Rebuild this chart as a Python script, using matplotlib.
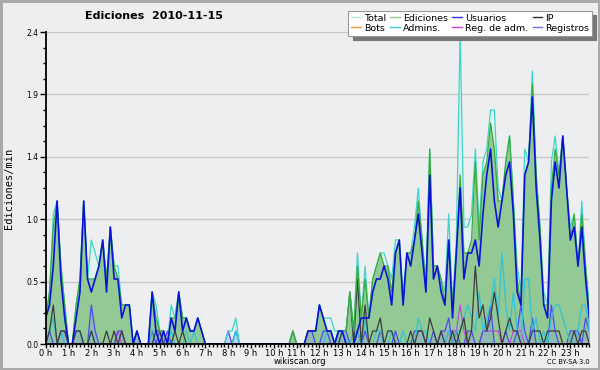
import matplotlib
matplotlib.use("Agg")
import matplotlib.pyplot as plt
from matplotlib.lines import Line2D
import numpy as np

# ---- data: values per 10 minutes (edits/min), one row per hour ----
total_rows = [
    [0.2, 0.4, 1.0, 1.1, 0.6, 0.3], [0.0, 0.0, 0.3, 0.5, 1.1, 0.5],
    [0.8, 0.7, 0.6, 0.8, 0.5, 0.9], [0.6, 0.6, 0.3, 0.3, 0.3, 0.0],
    [0.1, 0.0, 0.0, 0.0, 0.4, 0.3], [0.1, 0.1, 0.0, 0.3, 0.2, 0.4],
    [0.2, 0.2, 0.1, 0.1, 0.2, 0.1], [0.0, 0.0, 0.0, 0.0, 0.0, 0.0],
    [0.1, 0.1, 0.2, 0.0, 0.0, 0.0], [0.0, 0.0, 0.0, 0.0, 0.0, 0.0],
    [0.0, 0.0, 0.0, 0.0, 0.0, 0.1], [0.0, 0.0, 0.0, 0.1, 0.1, 0.1],
    [0.3, 0.2, 0.2, 0.2, 0.1, 0.1], [0.1, 0.1, 0.4, 0.1, 0.7, 0.2],
    [0.6, 0.2, 0.5, 0.6, 0.7, 0.7], [0.6, 0.5, 0.8, 0.8, 0.4, 0.7],
    [0.7, 0.9, 1.2, 0.8, 0.5, 1.5], [0.6, 0.6, 0.5, 0.4, 1.0, 0.3],
    [0.8, 2.4, 0.9, 0.9, 1.0, 1.5], [0.9, 1.4, 1.5, 1.8, 1.8, 1.2],
    [1.1, 1.4, 1.6, 1.1, 0.6, 0.4], [1.5, 1.4, 2.1, 1.3, 0.9, 0.4],
    [0.3, 1.4, 1.6, 1.3, 1.6, 1.2], [0.9, 1.0, 0.6, 1.1, 0.6, 0.3],
]
ediciones_rows = [
    [0.2, 0.4, 0.9, 1.1, 0.6, 0.3], [0.0, 0.0, 0.3, 0.5, 1.1, 0.5],
    [0.5, 0.5, 0.6, 0.8, 0.5, 0.9], [0.6, 0.5, 0.3, 0.3, 0.3, 0.0],
    [0.1, 0.0, 0.0, 0.0, 0.4, 0.2], [0.1, 0.1, 0.0, 0.2, 0.2, 0.4],
    [0.2, 0.2, 0.1, 0.1, 0.2, 0.1], [0.0, 0.0, 0.0, 0.0, 0.0, 0.0],
    [0.0, 0.0, 0.0, 0.0, 0.0, 0.0], [0.0, 0.0, 0.0, 0.0, 0.0, 0.0],
    [0.0, 0.0, 0.0, 0.0, 0.0, 0.1], [0.0, 0.0, 0.0, 0.1, 0.1, 0.1],
    [0.3, 0.2, 0.1, 0.1, 0.0, 0.1], [0.1, 0.1, 0.4, 0.1, 0.6, 0.2],
    [0.5, 0.2, 0.5, 0.6, 0.7, 0.6], [0.6, 0.4, 0.7, 0.8, 0.3, 0.7],
    [0.7, 0.8, 1.1, 0.8, 0.4, 1.5], [0.6, 0.6, 0.5, 0.3, 0.8, 0.3],
    [0.7, 1.3, 0.7, 0.7, 0.8, 1.4], [0.8, 1.3, 1.4, 1.7, 1.5, 1.1],
    [1.1, 1.4, 1.6, 1.1, 0.5, 0.3], [1.3, 1.4, 2.0, 1.3, 0.9, 0.3],
    [0.3, 1.2, 1.5, 1.3, 1.6, 1.2], [0.8, 1.0, 0.6, 1.0, 0.6, 0.2],
]
usuarios_rows = [
    [0.2, 0.3, 0.6, 1.1, 0.5, 0.2], [0.0, 0.0, 0.2, 0.4, 1.1, 0.5],
    [0.4, 0.5, 0.6, 0.8, 0.4, 0.9], [0.5, 0.5, 0.2, 0.3, 0.3, 0.0],
    [0.1, 0.0, 0.0, 0.0, 0.4, 0.1], [0.0, 0.1, 0.0, 0.2, 0.1, 0.4],
    [0.1, 0.2, 0.1, 0.1, 0.2, 0.1], [0.0, 0.0, 0.0, 0.0, 0.0, 0.0],
    [0.0, 0.0, 0.0, 0.0, 0.0, 0.0], [0.0, 0.0, 0.0, 0.0, 0.0, 0.0],
    [0.0, 0.0, 0.0, 0.0, 0.0, 0.0], [0.0, 0.0, 0.0, 0.1, 0.1, 0.1],
    [0.3, 0.2, 0.1, 0.1, 0.0, 0.1], [0.1, 0.0, 0.0, 0.0, 0.1, 0.2],
    [0.2, 0.2, 0.4, 0.5, 0.5, 0.6], [0.5, 0.3, 0.7, 0.8, 0.3, 0.7],
    [0.6, 0.8, 1.0, 0.7, 0.4, 1.3], [0.5, 0.6, 0.4, 0.3, 0.8, 0.2],
    [0.7, 1.2, 0.5, 0.7, 0.7, 0.8], [0.6, 1.0, 1.3, 1.5, 1.1, 0.9],
    [1.1, 1.3, 1.4, 1.0, 0.4, 0.3], [1.3, 1.4, 1.9, 1.2, 0.8, 0.3],
    [0.2, 1.1, 1.4, 1.2, 1.6, 1.2], [0.8, 0.9, 0.6, 0.9, 0.5, 0.2],
]
ip_rows = [
    [0.0, 0.1, 0.3, 0.0, 0.1, 0.1], [0.0, 0.0, 0.1, 0.1, 0.0, 0.0],
    [0.1, 0.0, 0.0, 0.0, 0.1, 0.0], [0.1, 0.0, 0.1, 0.0, 0.0, 0.0],
    [0.0, 0.0, 0.0, 0.0, 0.0, 0.1], [0.1, 0.0, 0.0, 0.0, 0.1, 0.0],
    [0.1, 0.0, 0.0, 0.0, 0.0, 0.0], [0.0, 0.0, 0.0, 0.0, 0.0, 0.0],
    [0.0, 0.0, 0.0, 0.0, 0.0, 0.0], [0.0, 0.0, 0.0, 0.0, 0.0, 0.0],
    [0.0, 0.0, 0.0, 0.0, 0.0, 0.1], [0.0, 0.0, 0.0, 0.0, 0.0, 0.0],
    [0.0, 0.0, 0.0, 0.0, 0.0, 0.0], [0.1, 0.1, 0.4, 0.0, 0.5, 0.0],
    [0.3, 0.0, 0.1, 0.1, 0.2, 0.0], [0.1, 0.1, 0.0, 0.0, 0.0, 0.0],
    [0.1, 0.0, 0.1, 0.1, 0.0, 0.2], [0.1, 0.0, 0.1, 0.0, 0.0, 0.1],
    [0.0, 0.1, 0.2, 0.0, 0.1, 0.6], [0.2, 0.3, 0.1, 0.2, 0.4, 0.2],
    [0.0, 0.1, 0.2, 0.1, 0.1, 0.0], [0.0, 0.0, 0.1, 0.1, 0.1, 0.0],
    [0.1, 0.1, 0.1, 0.1, 0.0, 0.0], [0.0, 0.1, 0.0, 0.1, 0.1, 0.0],
]
admins_rows = [
    [0.0, 0.1, 0.2, 0.0, 0.1, 0.0], [0.0, 0.0, 0.1, 0.1, 0.0, 0.0],
    [0.1, 0.0, 0.0, 0.0, 0.0, 0.0], [0.0, 0.0, 0.0, 0.0, 0.0, 0.0],
    [0.0, 0.0, 0.0, 0.0, 0.1, 0.1], [0.0, 0.0, 0.0, 0.1, 0.0, 0.0],
    [0.0, 0.1, 0.0, 0.1, 0.0, 0.0], [0.0, 0.0, 0.0, 0.0, 0.0, 0.0],
    [0.0, 0.0, 0.1, 0.0, 0.0, 0.0], [0.0, 0.0, 0.0, 0.0, 0.0, 0.0],
    [0.0, 0.0, 0.0, 0.0, 0.0, 0.0], [0.0, 0.0, 0.0, 0.0, 0.0, 0.0],
    [0.0, 0.0, 0.1, 0.1, 0.0, 0.0], [0.1, 0.0, 0.0, 0.1, 0.1, 0.0],
    [0.2, 0.0, 0.0, 0.1, 0.1, 0.0], [0.0, 0.1, 0.0, 0.0, 0.1, 0.0],
    [0.0, 0.0, 0.2, 0.1, 0.1, 0.0], [0.0, 0.0, 0.0, 0.0, 0.1, 0.0],
    [0.1, 0.1, 0.2, 0.3, 0.2, 0.1], [0.4, 0.1, 0.2, 0.3, 0.5, 0.2],
    [0.7, 0.3, 0.1, 0.4, 0.1, 0.0], [0.5, 0.5, 0.1, 0.2, 0.0, 0.1],
    [0.0, 0.2, 0.3, 0.3, 0.2, 0.1], [0.0, 0.0, 0.1, 0.3, 0.3, 0.1],
]
registros_rows = [
    [0.0, 0.1, 0.0, 0.0, 0.1, 0.1], [0.0, 0.0, 0.1, 0.1, 0.0, 0.0],
    [0.3, 0.1, 0.0, 0.0, 0.0, 0.0], [0.0, 0.1, 0.1, 0.0, 0.0, 0.0],
    [0.1, 0.0, 0.0, 0.0, 0.1, 0.0], [0.1, 0.0, 0.1, 0.0, 0.0, 0.0],
    [0.0, 0.0, 0.0, 0.0, 0.0, 0.0], [0.0, 0.0, 0.0, 0.0, 0.0, 0.0],
    [0.1, 0.0, 0.1, 0.0, 0.0, 0.0], [0.0, 0.0, 0.0, 0.0, 0.0, 0.0],
    [0.0, 0.0, 0.0, 0.0, 0.0, 0.0], [0.0, 0.0, 0.0, 0.1, 0.1, 0.0],
    [0.0, 0.1, 0.1, 0.0, 0.0, 0.1], [0.1, 0.1, 0.0, 0.0, 0.1, 0.0],
    [0.1, 0.0, 0.0, 0.0, 0.1, 0.0], [0.0, 0.0, 0.1, 0.0, 0.0, 0.0],
    [0.0, 0.1, 0.1, 0.1, 0.0, 0.0], [0.1, 0.0, 0.1, 0.1, 0.2, 0.0],
    [0.1, 0.0, 0.0, 0.1, 0.1, 0.0], [0.0, 0.1, 0.1, 0.3, 0.0, 0.0],
    [0.0, 0.1, 0.0, 0.0, 0.1, 0.3], [0.1, 0.0, 0.2, 0.0, 0.0, 0.0],
    [0.0, 0.3, 0.1, 0.0, 0.0, 0.0], [0.1, 0.1, 0.1, 0.0, 0.2, 0.1],
]
regadm_rows = [[0.0] * 6 for _ in range(3)] + [
    [0.0, 0.1, 0.0, 0.0, 0.0, 0.0]] + [[0.0] * 6 for _ in range(13)] + [
    [0.0, 0.0, 0.0, 0.0, 0.1, 0.1], [0.1, 0.3, 0.1, 0.0, 0.0, 0.0],
    [0.0, 0.1, 0.1, 0.1, 0.1, 0.1], [0.0, 0.0, 0.0, 0.1, 0.1, 0.1],
    [0.0] * 6, [0.0] * 6, [0.0] * 6,
]
bots_rows = [[0.0] * 6 for _ in range(24)]

hour_labels = [f"{h} h" for h in range(24)]
series_labels = ["Total", "Ediciones", "Usuarios", "IP",
                 "Bots", "Admins.", "Reg. de adm.", "Registros"]

flat = lambda rows: np.array([v for r in rows for v in r])
total = flat(total_rows)
ediciones = flat(ediciones_rows)
usuarios = flat(usuarios_rows)
ip = flat(ip_rows)
admins = flat(admins_rows)
registros = flat(registros_rows)
regadm = flat(regadm_rows)
bots = flat(bots_rows)
x = np.arange(len(total))

# ---- figure ----
bg = "#edeef0"
fig = plt.figure(figsize=(6, 3.7), dpi=100, facecolor=bg)
fig.patch.set_edgecolor("#a9a9a9")
fig.patch.set_linewidth(2.5)
ax = fig.add_axes([45.7 / 600, 1 - 344 / 370, (589.4 - 45.7) / 600, (344 - 32) / 370])
ax.set_facecolor(bg)

# fills and lines
ax.fill_between(x, total, color="#def3ef", lw=0, zorder=1)
ax.fill_between(x, ediciones, color="#93c994", lw=0, zorder=1.1)
ax.fill_between(x, registros, color="#8c9ce8", alpha=0.35, lw=0, zorder=1.2)
ax.plot(x, bots, color="#f0a040", lw=0.8, zorder=1.3)
ax.plot(x, regadm, color="#c040e0", lw=0.8, zorder=1.5)
ax.plot(x, registros, color="#4a4cf0", lw=0.9, zorder=1.6)
ax.plot(x, admins, color="#30c4d8", lw=0.9, zorder=1.6)
ax.plot(x, ip, color="#3c3c3c", lw=0.9, zorder=1.7)
ax.plot(x, total, color="#40d4c8", lw=0.9, zorder=1.8)
ax.plot(x, ediciones, color="#3aaa3a", lw=0.9, zorder=1.9)
ax.plot(x, usuarios, color="#0a14d8", lw=1.2, zorder=2)

ax.set_xlim(0, len(x) - 1)
ax.set_ylim(0, 2.4)

yt = np.linspace(0, 2.4, 6)
ax.set_yticks(yt)
ax.set_yticklabels([f"{v:.1f}" for v in yt], fontsize=5.5)
ax.set_yticks(np.arange(0, 2.41, 0.12), minor=True)
ax.set_xticks(np.arange(0, len(x), 6))
ax.set_xticklabels(hour_labels, fontsize=6)
ax.set_xticks(np.arange(0, len(x)), minor=True)
ax.tick_params(axis="y", which="major", length=4.3, width=1, pad=1, color="black")
ax.tick_params(axis="y", which="minor", length=2.2, width=1, color="black")
ax.tick_params(axis="x", which="major", length=3.2, width=1, pad=0.5, color="black")
ax.tick_params(axis="x", which="minor", length=2.4, width=1, color="black")
ax.grid(axis="y", which="major", color="#c8c8c8", lw=1, zorder=0)
ax.set_axisbelow(True)
for s in ["top", "right"]:
    ax.spines[s].set_visible(False)
for s in ["left", "bottom"]:
    ax.spines[s].set_linewidth(1.3)
    ax.spines[s].set_zorder(3)

ax.set_ylabel("Ediciones/min", fontsize=7.5, family="DejaVu Sans Mono")
ax.yaxis.set_label_coords(-0.058, 0.5)

fig.text(154 / 600, 1 - 16 / 370, "Ediciones  2010-11-15", ha="center", va="center",
         fontsize=8, fontweight="bold")
fig.text(300 / 600, 1 - 362 / 370, "wikiscan.org", ha="center", va="center", fontsize=6)
fig.text(590 / 600, 1 - 362 / 370, "CC BY-SA 3.0", ha="right", va="center", fontsize=4.8)

leg_colors = ["#b4eae4", "#90d090", "#3434d0", "#303030",
              "#f0a040", "#40c8d8", "#d040d8", "#7070f0"]
order = [0, 4, 1, 5, 2, 6, 3, 7]
handles = [Line2D([], [], color=leg_colors[i], lw=1) for i in order]
labels = [series_labels[i] for i in order]
leg = fig.legend(handles, labels, ncol=4, loc="upper right",
                 bbox_to_anchor=(594 / 600, 1 - 9 / 370), fontsize=6.8,
                 handlelength=1.0, handletextpad=0.35, columnspacing=0.45,
                 labelspacing=0.1, borderpad=0.3, borderaxespad=0.2,
                 fancybox=False, framealpha=1, edgecolor="#999999",
                 shadow={"ox": 3, "oy": -3, "color": "#777777", "alpha": 1})
leg.get_frame().set_linewidth(0.8)

fig.savefig("out.png", dpi=100, facecolor=bg, edgecolor=fig.patch.get_edgecolor())
